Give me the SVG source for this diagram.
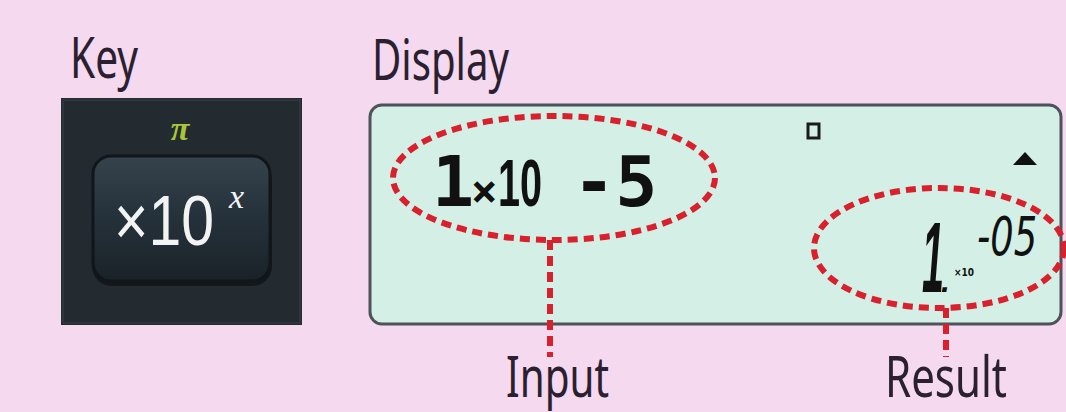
<svg xmlns="http://www.w3.org/2000/svg" width="1066" height="412" viewBox="0 0 1066 412">
<style>
.lbl{font-family:"Noto Sans","Open Sans",sans-serif;fill:#2b2030;font-size:56px}
.red{fill:none;stroke:#d9212e;stroke-width:6;stroke-dasharray:10 6;stroke-linecap:butt}
.lcd{font-family:"DejaVu Sans Mono",monospace;font-weight:bold;fill:#111}
</style>
<defs>
<linearGradient id="btn" x1="0" y1="0" x2="0" y2="1">
<stop offset="0" stop-color="#35434c"/>
<stop offset="0.5" stop-color="#25313a"/>
<stop offset="1" stop-color="#1a2228"/>
</linearGradient>
</defs>
<rect width="1066" height="412" fill="#f4d9ef"/>

<g id="key-label"><text class="lbl" x="70" y="78" textLength="68" lengthAdjust="spacingAndGlyphs">Key</text></g>
<g id="display-label"><text class="lbl" x="372" y="80" textLength="137" lengthAdjust="spacingAndGlyphs">Display</text></g>

<g id="key">
<rect x="61" y="98" width="241" height="227" fill="#232b31"/>
<rect x="63" y="100" width="237" height="223" fill="none" stroke="#2d363d" stroke-width="2"/>
<text x="180" y="140" font-family="Liberation Serif,serif" font-style="italic" font-weight="bold" font-size="34" fill="#a9c53a" text-anchor="middle">π</text>
<rect x="92" y="160" width="180" height="126" rx="20" fill="#0f1418" opacity="0.8"/>
<rect x="93" y="156" width="177" height="125" rx="18" fill="url(#btn)" stroke="#10161a" stroke-width="3"/>
<text x="114" y="245" font-family="Liberation Sans,sans-serif" font-size="70" fill="#f2f4f4" textLength="100" lengthAdjust="spacingAndGlyphs">×10</text>
<text x="229" y="208" font-family="Liberation Serif,serif" font-style="italic" font-size="34" fill="#f2f4f4">x</text>
</g>

<g id="display">
<rect x="370" y="105" width="691" height="219" rx="12" fill="#d4efe5" stroke="#4d5358" stroke-width="3"/>
<rect x="808" y="124" width="11" height="14" fill="none" stroke="#1a1a1a" stroke-width="3"/>
<polygon points="1013,165 1037,165 1025,152" fill="#111"/>
<text class="lcd" y="206"><tspan x="432" font-size="70">1</tspan><tspan x="471" font-size="44">×</tspan><tspan x="498" font-size="66" font-family="Liberation Sans,sans-serif" textLength="44" lengthAdjust="spacingAndGlyphs">10</tspan><tspan x="573" font-size="70">-5</tspan></text>
<text y="292" font-family="Liberation Sans,sans-serif" font-style="italic" font-weight="bold" fill="#111"><tspan x="922" font-size="100" textLength="22" lengthAdjust="spacingAndGlyphs">1</tspan><tspan x="941" font-size="32">.</tspan></text>
<text x="954" y="276" font-family="DejaVu Sans,sans-serif" font-weight="bold" font-size="11" fill="#111" textLength="20" lengthAdjust="spacingAndGlyphs">×10</text>
<text x="977" y="255" font-family="DejaVu Sans,sans-serif" font-style="italic" font-size="54" fill="#111" textLength="60" lengthAdjust="spacingAndGlyphs">-05</text>
</g>

<g id="connectors">
<ellipse class="red" cx="554" cy="178" rx="161" ry="62"/>
<ellipse class="red" cx="939" cy="248" rx="125" ry="60"/>
<line class="red" x1="550" y1="240" x2="550" y2="357"/>
<line class="red" x1="946" y1="308" x2="946" y2="357"/>
</g>

<g id="input-label"><text class="lbl" x="506" y="397" font-size="46" textLength="103" lengthAdjust="spacingAndGlyphs">Input</text></g>
<g id="result-label"><text class="lbl" x="885" y="397" font-size="46" textLength="122" lengthAdjust="spacingAndGlyphs">Result</text></g>
</svg>
